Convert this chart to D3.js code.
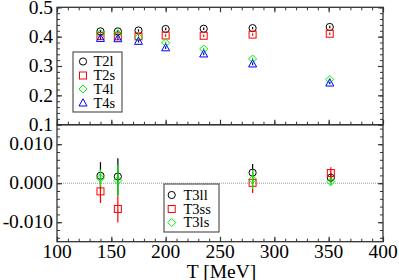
<!DOCTYPE html>
<html><head><meta charset="utf-8">
<script src="https://cdn.jsdelivr.net/npm/d3@7"></script>
<style>body{margin:0;background:#fff}svg{display:block}</style>
</head><body><div id="chart"></div>
<script>
const temps = [140, 156, 175, 200, 235, 280, 351];
const T2l = [0.418, 0.418, 0.421, 0.426, 0.427, 0.429, 0.433];
const T2s = [0.402, 0.401, 0.401, 0.404, 0.403, 0.407, 0.410];
const T4l = [0.410, 0.410, 0.398, 0.379, 0.358, 0.324, 0.254];
const T4s = [0.394, 0.393, 0.384, 0.362, 0.341, 0.307, 0.242];

const temps3 = [140, 156, 280, 352];
const T3ll = [0.0019, 0.0017, 0.0027, 0.0014];
const T3llErr = [0.0035, 0.0047, 0.0022, 0.0012];
const T3ss = [-0.0021, -0.0066, 0.0001, 0.0026];
const T3ssErr = [0.0030, 0.0035, 0.0026, 0.0015];
const T3ls = [0.0013, 0.0007, 0.0010, 0.0004];
const T3lsErr = [0.0022, 0.0040, 0.0025, 0.0010];

const xTicks = [100, 150, 200, 250, 300, 350, 400];
const yTopTicks = [0.1, 0.2, 0.3, 0.4, 0.5];
const yBotTicks = [-0.010, 0.000, 0.010];

const FONT = "Liberation Serif";
const W = 399, H = 280;
const svg = d3.select("#chart").append("svg").attr("width", W).attr("height", H);
const x = d3.scaleLinear().domain([100, 400]).range([57, 383]);
const yT = d3.scaleLinear().domain([0.1, 0.5]).range([124.7, 7.3]);
const yB = d3.scaleLinear().domain([-0.015, 0.015]).range([241.7, 124.7]);
const frameCol = "#333";

// zero line
svg.append("line").attr("x1", x(100)).attr("x2", x(400)).attr("y1", yB(0)).attr("y2", yB(0))
  .attr("stroke", "#999").attr("stroke-width", 1).attr("stroke-dasharray", "1,1");

function ticks(g, axisFn, scale, major, minor, lenMaj, lenMin) {
  g.call(axisFn(scale).tickValues(minor).tickSize(lenMin).tickFormat(""))
   .call(s => s.select(".domain").remove());
  g.selectAll("line").attr("stroke", frameCol).attr("stroke-width", 1);
  const g2 = g.append("g").call(axisFn(scale).tickValues(major).tickSize(lenMaj).tickFormat(""));
  g2.select(".domain").remove();
  g2.selectAll("line").attr("stroke", frameCol).attr("stroke-width", 1.2);
}
const xMinor = d3.range(100, 401, 10);
const yTMinor = d3.range(0.1, 0.5001, 0.02);
const yBMinor = d3.range(-0.014, 0.0141, 0.002);

// top panel ticks (inward)
ticks(svg.append("g").attr("transform", `translate(0,${yT(0.1)})`), d3.axisTop, x, xTicks, xMinor, 5, 3);
ticks(svg.append("g").attr("transform", `translate(0,${yT(0.5)})`), d3.axisBottom, x, xTicks, xMinor, 5, 3);
ticks(svg.append("g").attr("transform", `translate(${x(100)},0)`), d3.axisRight, yT, yTopTicks, yTMinor, 5, 3);
ticks(svg.append("g").attr("transform", `translate(${x(400)},0)`), d3.axisLeft, yT, yTopTicks, yTMinor, 5, 3);
// bottom panel ticks
ticks(svg.append("g").attr("transform", `translate(0,${yB(-0.015)})`), d3.axisTop, x, xTicks, xMinor, 5, 3);
ticks(svg.append("g").attr("transform", `translate(${x(100)},0)`), d3.axisRight, yB, yBotTicks, yBMinor, 5, 3);
ticks(svg.append("g").attr("transform", `translate(${x(400)},0)`), d3.axisLeft, yB, yBotTicks, yBMinor, 5, 3);

// frames
svg.append("rect").attr("x", x(100)).attr("y", yT(0.5)).attr("width", x(400) - x(100)).attr("height", yT(0.1) - yT(0.5))
  .attr("fill", "none").attr("stroke", frameCol).attr("stroke-width", 1.3);
svg.append("rect").attr("x", x(100)).attr("y", yB(0.015)).attr("width", x(400) - x(100)).attr("height", yB(-0.015) - yB(0.015))
  .attr("fill", "none").attr("stroke", frameCol).attr("stroke-width", 1.3);

// tick labels
const fs = 19.5;
svg.selectAll(".ytl").data(yTopTicks).enter().append("text")
  .attr("x", 53).attr("y", d => yT(d)).attr("dy", "0.32em").attr("text-anchor", "end")
  .style("font-family", FONT).attr("font-size", fs).attr("fill", "#000").text(d => d.toFixed(1));
svg.selectAll(".ybl").data(yBotTicks).enter().append("text")
  .attr("x", 53).attr("y", d => yB(d)).attr("dy", "0.32em").attr("text-anchor", "end")
  .style("font-family", FONT).attr("font-size", fs).attr("fill", "#000").text(d => (d < 0 ? "-" : "") + Math.abs(d).toFixed(3));
svg.selectAll(".xl").data(xTicks).enter().append("text")
  .attr("x", d => x(d)).attr("y", 258).attr("text-anchor", "middle")
  .style("font-family", FONT).attr("font-size", fs).attr("fill", "#000").text(d => d);
svg.append("text").attr("x", 221.5).attr("y", 277.5).attr("text-anchor", "middle")
  .style("font-family", FONT).attr("font-size", fs).attr("fill", "#000").text("T [MeV]");

// symbols
function sym(g, type, cx, cy, color) {
  if (type === "circle") g.append("circle").attr("cx", cx).attr("cy", cy).attr("r", 3.6)
    .attr("fill", "none").attr("stroke", color).attr("stroke-width", 1);
  else if (type === "square") g.append("rect").attr("x", cx - 3.5).attr("y", cy - 3.5).attr("width", 7).attr("height", 7)
    .attr("fill", "none").attr("stroke", color).attr("stroke-width", 1);
  else if (type === "diamond") g.append("path").attr("d", `M${cx},${cy-4}L${cx+4},${cy}L${cx},${cy+4}L${cx-4},${cy}Z`)
    .attr("fill", "none").attr("stroke", color).attr("stroke-width", 1);
  else if (type === "triangle") g.append("path").attr("d", `M${cx},${cy-4.2}L${cx+4},${cy+3}L${cx-4},${cy+3}Z`)
    .attr("fill", "none").attr("stroke", color).attr("stroke-width", 1);
}
const topSeries = [
  {name: "T2l", vals: T2l, type: "circle", color: "#000"},
  {name: "T2s", vals: T2s, type: "square", color: "#ff0000"},
  {name: "T4l", vals: T4l, type: "diamond", color: "#00ee00"},
  {name: "T4s", vals: T4s, type: "triangle", color: "#0000ff"}
];
const gTop = svg.append("g");
topSeries.forEach(s => {
  s.vals.forEach((v, i) => {
    const cx = x(temps[i]), cy = yT(v);
    gTop.append("line").attr("x1", cx).attr("x2", cx).attr("y1", cy - 1.2).attr("y2", cy + 1.2)
      .attr("stroke", s.color).attr("stroke-width", 1.2);
    sym(gTop, s.type, cx, cy, s.color);
  });
});

const botSeries = [
  {name: "T3ll", vals: T3ll, err: T3llErr, type: "circle", color: "#000"},
  {name: "T3ss", vals: T3ss, err: T3ssErr, type: "square", color: "#ff0000"},
  {name: "T3ls", vals: T3ls, err: T3lsErr, type: "diamond", color: "#00ee00"}
];
const gBot = svg.append("g");
botSeries.forEach(s => {
  s.vals.forEach((v, i) => {
    const cx = x(temps3[i]);
    gBot.append("line").attr("x1", cx).attr("x2", cx).attr("y1", yB(v + s.err[i])).attr("y2", yB(v - s.err[i]))
      .attr("stroke", s.color).attr("stroke-width", 1.2);
    sym(gBot, s.type, cx, yB(v), s.color);
  });
});

// legends
function legend(x0, y0, w, h, items, ys, symX, txtX) {
  const g = svg.append("g");
  g.append("rect").attr("x", x0).attr("y", y0).attr("width", w).attr("height", h)
    .attr("fill", "#fff").attr("stroke", "#555").attr("stroke-width", 1.2);
  items.forEach((s, i) => {
    sym(g, s.type, symX, ys[i], s.color);
    g.append("text").attr("x", txtX).attr("y", ys[i]).attr("dy", "0.34em")
      .style("font-family", FONT).attr("font-size", 14.5).attr("fill", "#000").text(s.name);
  });
}
legend(73, 52, 49, 60, topSeries, [61.5, 75.5, 89, 103], 83, 93.5);
legend(164, 184, 55, 48, botSeries, [195, 209, 222.5], 171.7, 183.5);
</script></body></html>
